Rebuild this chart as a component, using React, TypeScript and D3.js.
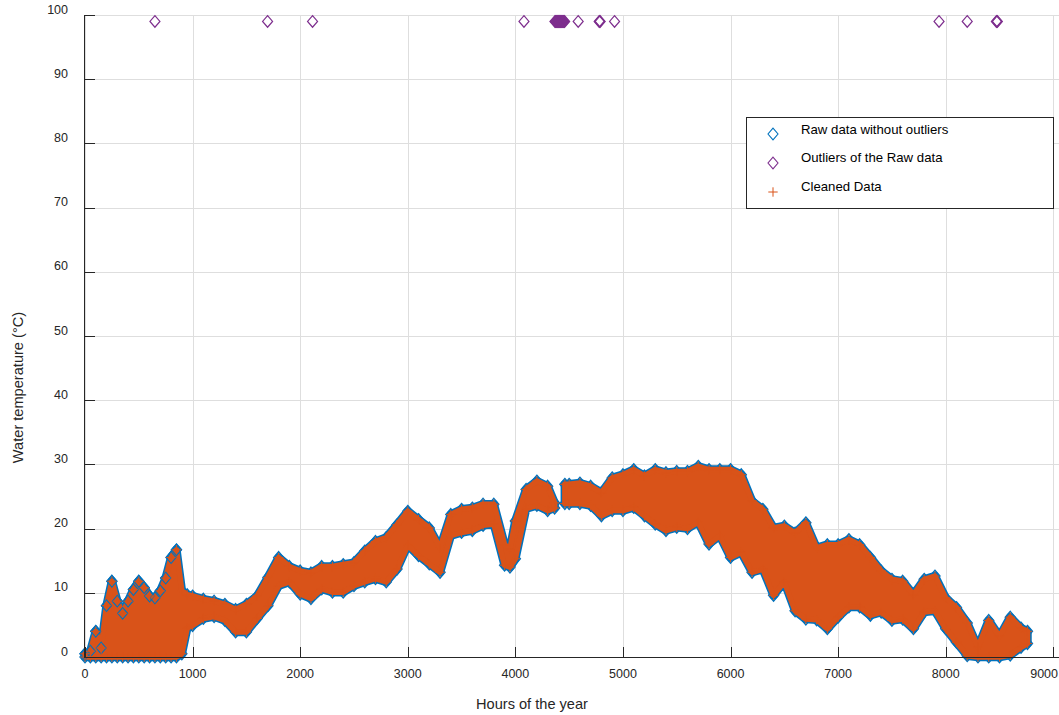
import React from 'react';
import * as d3 from 'd3';

// hours of the year sampled along the band, with lower / upper edge of the cleaned data (°C)
const hours = [
  0, 50, 100, 150, 200, 250, 300, 350, 400, 450, 500, 550, 600, 650, 700, 750, 800, 850, 900, 950,
  1000, 1100, 1200, 1300, 1400, 1500, 1600, 1700, 1800, 1900, 2000, 2100, 2200, 2300, 2400, 2500,
  2600, 2700, 2800, 2900, 3000, 3100, 3200, 3300, 3400, 3500, 3600, 3700, 3800, 3900, 3950, 4000,
  4100, 4200, 4300, 4365, 4410, 4460, 4500, 4600, 4700, 4800, 4900, 5000, 5100, 5200, 5300, 5400,
  5500, 5600, 5700, 5800, 5900, 6000, 6100, 6200, 6300, 6400, 6500, 6600, 6700, 6800, 6900, 7000,
  7100, 7200, 7300, 7400, 7500, 7600, 7700, 7800, 7900, 8000, 8100, 8200, 8300, 8400, 8500, 8600,
  8700, 8760,
];
const lowTemp = [
  0, 0, 0, 0, 0, 0, 0, 0, 0, 0, 0, 0, 0, 0, 0, 0, 0, 0, 0.5, 4.5,
  4.9, 6.0, 6.3, 5.7, 3.9, 3.9, 6.0, 8.0, 11.1, 11.7, 9.8, 9.1, 10.6, 10.1, 10.1, 11.1,
  11.7, 12.2, 11.7, 13.7, 17.4, 15.8, 14.5, 13.2, 18.9, 19.4, 19.7, 20.5, 20.7, 14.3, 14.0, 15.3,
  23.1, 23.6, 22.8, 23.2, null, 23.9, 23.9, 23.9, 23.6, 22.0, 22.8, 22.8, 23.3, 22.0, 20.7, 19.7,
  20.2, 20.0, 21.0, 17.6, 18.9, 15.5, 16.3, 13.2, 13.7, 9.6, 11.7, 7.2, 5.9, 5.8, 4.4, 6.2,
  7.8, 7.8, 6.5, 7.0, 5.7, 5.9, 4.4, 7.0, 7.2, 4.4, 2.3, 0.2, 0, 0, 0, 0.3,
  1.5, 2.1,
];
const highTemp = [
  0.5, 0.9, 4.0, 1.4, 8.0, 11.8, 8.7, 6.8, 8.7, 10.5, 11.8, 10.8, 9.5, 9.2, 10.3, 12.3, 15.5, 16.7, 10.3, 9.7,
  9.5, 9.0, 8.7, 8.2, 7.4, 8.2, 9.5, 12.4, 15.5, 14.1, 13.4, 13.1, 14.1, 14.1, 14.4, 14.7,
  16.5, 18.0, 18.6, 20.6, 22.7, 21.4, 20.1, 17.0, 22.2, 23.0, 23.2, 23.8, 23.8, 17.5, 16.8, 21.2,
  26.1, 27.4, 26.6, 24.0, null, 26.9, 26.9, 27.1, 26.6, 25.6, 27.9, 28.4, 29.2, 28.2, 29.2, 28.7,
  28.9, 28.9, 29.7, 29.2, 29.2, 29.2, 28.4, 24.3, 23.0, 20.1, 20.4, 19.3, 20.9, 17.0, 17.5, 17.5,
  18.3, 17.5, 15.5, 13.4, 12.1, 11.8, 9.7, 12.1, 12.6, 9.2, 7.7, 5.3, 1.5, 5.7, 3.2, 6.2,
  4.5, 4.0,
];

// outliers of the raw data (all read at ~99 °C)
const outlierHours = [
  650, 1697, 2115, 4080,
  4368, 4373, 4378, 4383, 4388, 4393, 4398, 4403, 4408, 4413, 4418, 4423, 4428, 4433, 4438, 4443, 4448, 4453, 4458,
  4584, 4779, 4784, 4788, 4922, 7938, 8200, 8471, 8476, 8480,
];
const outlierTemp = 99;

const xTicks = [0, 1000, 2000, 3000, 4000, 5000, 6000, 7000, 8000, 9000];
const yTicks = [0, 10, 20, 30, 40, 50, 60, 70, 80, 90, 100];
const legendItems = ['Raw data without outliers', 'Outliers of the Raw data', 'Cleaned Data'];

const BLUE = '#0072BD';
const ORANGE = '#D95319';
const PURPLE = '#7E2F8E';
const INK = '#262626';
const FONT = '"Liberation Sans", Arial, Helvetica, sans-serif';

const W = 1059;
const H = 715;
const left = 85;
const right = 1059;
const top = 15;
const bottom = 657;

const diamond = (cx: number, cy: number) =>
  `M${cx},${cy - 5.8}L${cx + 5},${cy}L${cx},${cy + 5.8}L${cx - 5},${cy}Z`;
const plus = (cx: number, cy: number) =>
  `M${cx - 4.7},${cy}H${cx + 4.7}M${cx},${cy - 4.7}V${cy + 4.7}`;

export default function App() {
  const x = d3.scaleLinear().domain([0, 9000]).range([left, 1053.3]);
  const y = d3.scaleLinear().domain([0, 100]).range([bottom, top]);

  const rows = hours.map((h, i) => ({ h, lo: lowTemp[i], hi: highTemp[i] }));
  const valid = rows.filter(r => r.lo !== null && r.hi !== null);

  const area = d3
    .area<{ h: number; lo: number | null; hi: number | null }>()
    .defined(d => d.lo !== null && d.hi !== null)
    .x(d => x(d.h))
    .y0(d => y(d.lo as number))
    .y1(d => y(d.hi as number));
  const bandPath = area(rows) || '';

  const edgePoints: [number, number][] = [];
  valid.forEach(r => {
    edgePoints.push([x(r.h), y(r.hi as number)]);
    edgePoints.push([x(r.h), y(r.lo as number)]);
  });
  // the scattered early-year spikes show their markers in full
  const spikePoints = valid.filter(r => r.h < 900).map(r => [x(r.h), y(r.hi as number)]);

  const crisp = (v: number) => Math.round(v) + 0.5;

  return (
    <svg
      width={W}
      height={H}
      style={{ position: 'absolute', left: 0, top: 0, background: '#fff' }}
      fontFamily={FONT}
    >
      {/* grid */}
      <g stroke="#dedede" strokeWidth={1}>
        {xTicks.map(t => (
          <line key={'gx' + t} x1={crisp(x(t))} x2={crisp(x(t))} y1={top} y2={bottom} />
        ))}
        {yTicks.map(t => (
          <line key={'gy' + t} x1={left} x2={right} y1={crisp(y(t))} y2={crisp(y(t))} />
        ))}
      </g>

      {/* raw data markers underneath, cleaned data on top */}
      <path d={bandPath} fill={BLUE} stroke={BLUE} strokeWidth={8.5} strokeLinejoin="round" />
      <g fill="none" stroke={BLUE} strokeWidth={1.4}>
        {edgePoints.map(([px, py], i) => (
          <path key={'d' + i} d={diamond(px, py)} />
        ))}
      </g>
      <path d={bandPath} fill={ORANGE} stroke={ORANGE} strokeWidth={5.5} strokeLinejoin="round" />
      <g fill="none" stroke={BLUE} strokeWidth={1.1}>
        {spikePoints.map(([px, py], i) => (
          <path key={'s' + i} d={diamond(px, py)} />
        ))}
      </g>
      <g fill="none" stroke={ORANGE} strokeWidth={1}>
        {edgePoints.map(([px, py], i) => (
          <path key={'p' + i} d={plus(px, py)} />
        ))}
      </g>

      {/* outliers */}
      <g fill="none" stroke={PURPLE} strokeWidth={1.2}>
        {outlierHours.map((h, i) => (
          <path key={'o' + i} d={diamond(x(h), y(outlierTemp))} />
        ))}
      </g>

      {/* axes */}
      <g stroke={INK} strokeWidth={1}>
        <line x1={crisp(left) - 1} x2={crisp(left) - 1} y1={top} y2={bottom + 0.5} />
        <line x1={left - 1} x2={right} y1={crisp(bottom)} y2={crisp(bottom)} />
        {xTicks.map(t => (
          <line key={'tx' + t} x1={crisp(x(t))} x2={crisp(x(t))} y1={bottom} y2={bottom - 10} />
        ))}
        {yTicks.map(t => (
          <line key={'ty' + t} x1={left} x2={left + 10} y1={crisp(y(t))} y2={crisp(y(t))} />
        ))}
      </g>
      <g fill={INK} fontSize={12.5}>
        {xTicks.map(t => {
          const atEdge = x(t) + 15 > W;
          return (
            <text
              key={'lx' + t}
              x={atEdge ? W - 1 : x(t)}
              y={678}
              textAnchor={atEdge ? 'end' : 'middle'}
            >
              {t}
            </text>
          );
        })}
        {yTicks.map(t => (
          <text key={'ly' + t} x={68} y={y(t) - 1.5} textAnchor="end">
            {t}
          </text>
        ))}
      </g>
      <text x={532} y={709} textAnchor="middle" fontSize={14.6} fill={INK}>
        Hours of the year
      </text>
      <text
        transform="translate(23,387.5) rotate(-90)"
        textAnchor="middle"
        fontSize={14.6}
        fill={INK}
      >
        Water temperature (°C)
      </text>

      {/* legend */}
      <rect x={746.5} y={117.5} width={307} height={91} fill="#fff" stroke={INK} strokeWidth={1} />
      <path d={diamond(773, 134)} fill="none" stroke={BLUE} strokeWidth={1.1} />
      <path d={diamond(773, 163)} fill="none" stroke={PURPLE} strokeWidth={1.1} />
      <path d={plus(773, 192)} fill="none" stroke={ORANGE} strokeWidth={1} />
      {legendItems.map((label, i) => (
        <text key={label} x={801} y={133.5 + i * 28.6} fontSize={13.2} fill="#000">
          {label}
        </text>
      ))}
    </svg>
  );
}
